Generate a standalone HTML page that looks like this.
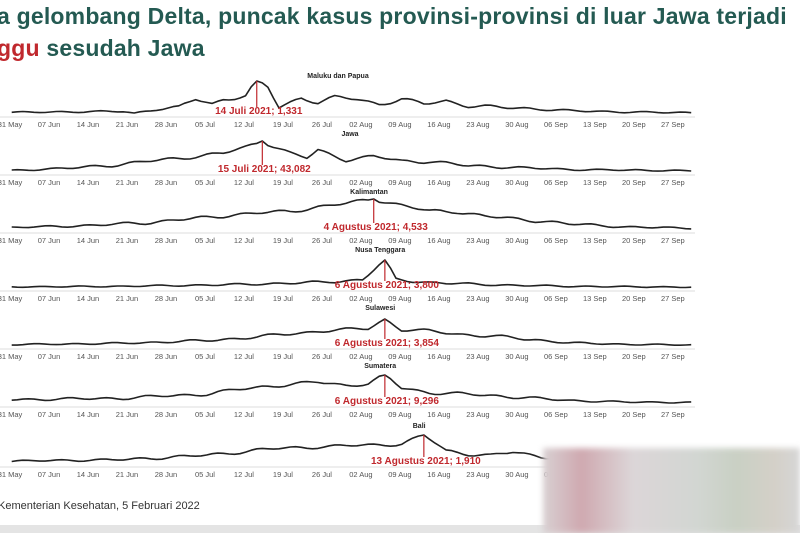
<!DOCTYPE html><html><head><meta charset="utf-8"><style>
body{margin:0;width:800px;height:533px;overflow:hidden;background:#fff;font-family:"Liberation Sans",sans-serif;position:relative}
.t{position:absolute;left:-3px;font-weight:bold;font-size:23px;color:#245a52;white-space:nowrap;letter-spacing:0.2px}
.r{color:#c0282d}
</style></head><body>
<div class="t" style="top:3px">a gelombang Delta, puncak kasus provinsi-provinsi di luar Jawa terjadi</div>
<div class="t" style="top:35px"><span class="r">ggu</span> sesudah Jawa</div>
<svg id="s" width="800" height="533" style="position:absolute;left:0;top:0"></svg>
<div style="position:absolute;left:-2px;top:500px;font-size:11px;color:#333">Kementerian Kesehatan, 5 Februari 2022</div>
<div style="position:absolute;left:0;top:525px;width:800px;height:8px;background:#e4e4e4"></div>
<div style="position:absolute;left:543px;top:448px;width:257px;height:85px;background:linear-gradient(90deg,#d8d0d2 0%,#cfa9b0 15%,#dcd6d8 35%,#d2d6d2 60%,#c9d0c4 75%,#d4d0c8 90%,#d6d6d6 100%);filter:blur(3px)"></div>
<script>
var ticks=["31 May","07 Jun","14 Jun","21 Jun","28 Jun","05 Jul","12 Jul","19 Jul","26 Jul","02 Aug","09 Aug","16 Aug","23 Aug","30 Aug","06 Sep","13 Sep","20 Sep","27 Sep"];
function X(d){return 10+5.57*d;}
var P=[
["Maluku dan Papua",116,44,"14 Juli 2021; 1,331",[[0,.05],[20,.08],[22,.02],[26,.15],[30,.2],[33,.45],[36,.3],[38,.45],[42,.55],[44,1],[46,.8],[48,.2],[52,.5],[55,.35],[58,.5],[62,.45],[66,.3],[70,.45],[74,.3],[78,.4],[82,.25],[88,.2],[95,.15],[100,.1],[110,.06],[122,.04]],33],
["Jawa",174,45,"15 Juli 2021; 43,082",[[0,.05],[10,.12],[20,.25],[30,.45],[38,.6],[42,.8],[45,1],[50,.6],[53,.45],[55,.7],[60,.4],[65,.5],[70,.35],[75,.35],[82,.2],[90,.15],[100,.08],[122,.04]],31],
["Kalimantan",232,65,"4 Agustus 2021; 4,533",[[0,.08],[15,.15],[25,.25],[35,.4],[40,.5],[45,.55],[50,.6],[55,.75],[60,.85],[65,1],[70,.8],[75,.6],[80,.6],[85,.45],[90,.35],[95,.3],[100,.2],[110,.1],[122,.06]],31],
["Nusa Tenggara",290,67,"6 Agustus 2021; 3,800",[[0,.04],[20,.06],[40,.12],[55,.2],[63,.3],[67,1],[69,.3],[75,.2],[85,.12],[100,.06],[122,.03]],28],
["Sulawesi",348,67,"6 Agustus 2021; 3,854",[[0,.05],[20,.1],[35,.2],[45,.35],[55,.55],[60,.6],[64,.65],[67,1],[70,.6],[75,.55],[80,.45],[90,.3],[100,.12],[110,.06],[122,.04]],27],
["Sumatera",406,67,"6 Agustus 2021; 9,296",[[0,.15],[20,.2],[35,.35],[45,.6],[55,.75],[60,.65],[64,.7],[67,1],[70,.55],[75,.4],[80,.35],[90,.25],[100,.12],[110,.07],[122,.05]],29],
["Bali",466,74,"13 Agustus 2021; 1,910",[[0,.1],[20,.15],[35,.3],[45,.5],[55,.6],[65,.65],[70,.7],[74,1],[78,.45],[82,.35],[86,.3],[90,.4],[95,.25],[105,.15],[112,.15]],29]];
var s="";
function interp(k,d){for(var i=0;i<k.length-1;i++){if(d>=k[i][0]&&d<=k[i+1][0]){var t=(d-k[i][0])/(k[i+1][0]-k[i][0]);return k[i][1]+t*(k[i+1][1]-k[i][1]);}}return k[k.length-1][1];}
P.forEach(function(p,pi){var b=p[1],k=p[4],a=p[5],end=k[k.length-1][0];
 s+='<line x1="0" x2="695" y1="'+(b+1)+'" y2="'+(b+1)+'" stroke="#ddd"/>';
 ticks.forEach(function(t,i){s+='<text x="'+X(i*7)+'" y="'+(b+11)+'" font-size="7.5" fill="#555" text-anchor="middle">'+t+'</text>';});
 s+='<text x="'+(pi==0?338:p[2]==45?350:X(p[2])-3)+'" y="'+(b-38)+'" font-size="7" font-weight="bold" fill="#222" text-anchor="middle">'+p[0]+'</text>';
 var pts=[];for(var d=0;d<=end;d++){var v=interp(k,d);if(d!=p[2])v+=Math.sin(d*0.9+pi)*0.04*Math.min(1,v*3+.3)+Math.sin(d*0.45+pi*3)*0.03*Math.min(1,v*3);pts.push(X(d+0.3).toFixed(1)+','+(b-2-v*a).toFixed(1));}
 s+='<polyline points="'+pts.join(' ')+'" fill="none" stroke="#222" stroke-width="1.6" stroke-linejoin="round"/>';
 var px=X(p[2]+0.3);s+='<line x1="'+px+'" x2="'+px+'" y1="'+(b-2-a)+'" y2="'+(b-9)+'" stroke="#c0282d" stroke-width="1.2"/>';
 s+='<text x="'+(px+2)+'" y="'+(b-2)+'" font-size="10" font-weight="bold" fill="#c0282d" text-anchor="middle">'+p[3]+'</text>';
});
document.getElementById("s").innerHTML=s;
</script>
</body></html>
